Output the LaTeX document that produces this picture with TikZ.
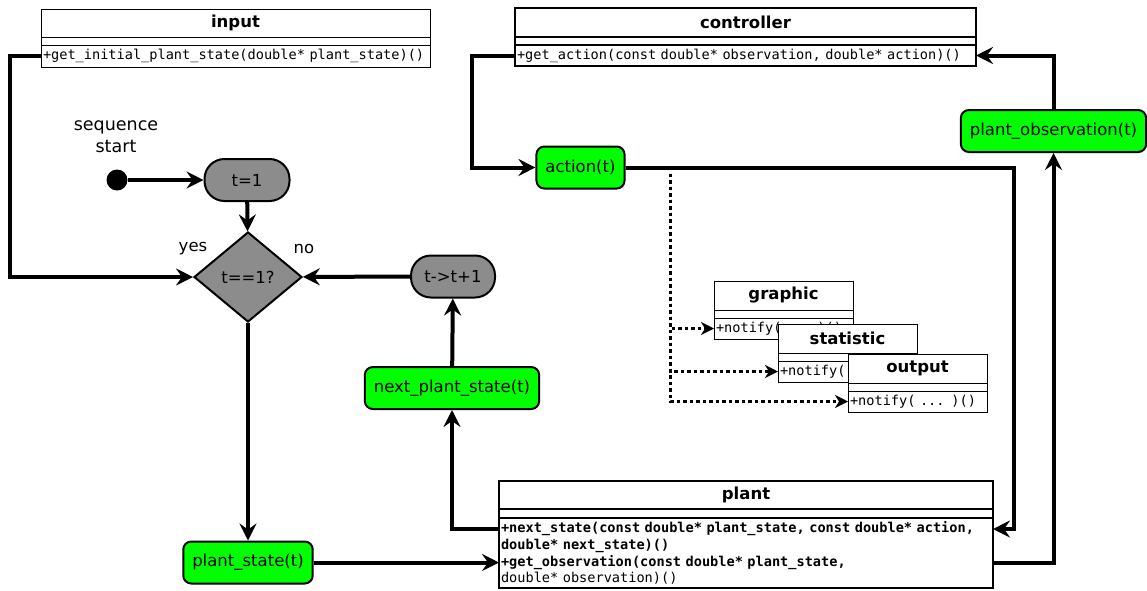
\documentclass[tikz,border=0pt]{standalone}
\usepackage{fontspec}
\setmainfont{DejaVu Sans}
\setmonofont{DejaVu Sans Mono}[WordSpace={1,0,0}]
\usetikzlibrary{arrows.meta,shapes.geometric}

\definecolor{stategreen}{HTML}{00FF00}
\definecolor{flowgray}{HTML}{8C8C8C}

\tikzset{
  lbl/.style={font=\fontsize{16.5}{21}\selectfont},
  ttl/.style={font=\fontsize{16.5}{19.5}\selectfont\bfseries},
  mth/.style={font=\fontsize{13.6}{16.8}\selectfont\ttfamily},
  part/.style={draw, fill=white, anchor=north west, inner sep=0pt, outer sep=0pt},
  titlepart/.style={part, ttl},
  methpart/.style={part, mth, align=left, inner xsep=2pt, inner ysep=0pt},
  greenbox/.style={draw, line width=2pt, fill=stategreen, rounded corners=8pt,
    lbl, minimum height=42pt, inner xsep=9pt},
  pill/.style={draw, line width=2pt, fill=flowgray, rounded corners=20pt,
    lbl, minimum height=42pt},
  conn/.style={line width=4pt, -{Stealth[length=17pt,width=17pt,inset=6pt]}},
  notifyline/.style={line width=2.5pt, dash pattern=on 3.5pt off 3pt,
    -{Stealth[length=13pt,width=13pt,inset=4pt]}},
}

\begin{document}
\begin{tikzpicture}[x=1pt,y=-1pt]
\useasboundingbox (0,0) rectangle (1147,590);

% ---- class: input
\begin{scope}[line width=1pt]
  \node[titlepart, minimum width=389pt, minimum height=28pt] (inT) at (41,9) {input};
  \node[part, minimum width=389pt, minimum height=8pt] (inE) at (41,37) {};
  \node[methpart, text width=385pt, minimum height=22pt] (inM) at (41,45)
    {+get\_initial\_plant\_state(double* plant\_state)()};
\end{scope}

% ---- class: controller
\begin{scope}[line width=2pt]
  \node[titlepart, minimum width=461pt, minimum height=29pt] (ctT) at (515,8) {controller};
  \node[part, minimum width=461pt, minimum height=8pt] (ctE) at (515,37) {};
  \node[methpart, text width=457pt, minimum height=21pt] (ctM) at (515,45)
    {+get\_action(const double* observation, double* action)()};
\end{scope}

% ---- observer classes
\begin{scope}[line width=1pt]
  \node[titlepart, minimum width=139pt, minimum height=29pt] (grT) at (714,281) {graphic};
  \node[part, minimum width=139pt, minimum height=8pt] (grE) at (714,310) {};
  \node[methpart, text width=135pt, minimum height=21pt] (grM) at (714,318) {+notify( ... )()};

  \node[titlepart, minimum width=139pt, minimum height=29pt] (stT) at (778,324) {statistic};
  \node[part, minimum width=139pt, minimum height=8pt] (stE) at (778,353) {};
  \node[methpart, text width=135pt, minimum height=21pt] (stM) at (778,361) {+notify( ... )()};

  \node[titlepart, minimum width=139pt, minimum height=29pt] (ouT) at (848,354) {output};
  \node[part, minimum width=139pt, minimum height=8pt] (ouE) at (848,383) {};
  \node[methpart, text width=135pt, minimum height=21pt] (ouM) at (848,391) {+notify( ... )()};
\end{scope}

% ---- class: plant
\begin{scope}[line width=2pt]
  \node[titlepart, minimum width=494pt, minimum height=28pt] (plT) at (499,481) {plant};
  \node[part, minimum width=494pt, minimum height=9pt] (plE) at (499,509) {};
  \node[methpart, text width=490pt, minimum height=70pt] (plM) at (499,518)
    {{\bfseries +next\_state(const double* plant\_state, const double* action,}\\
     {\bfseries double* next\_state)()}\\
     {\bfseries +get\_observation(const double* plant\_state,}\\
     double* observation)()};
\end{scope}

% ---- flow nodes
\node[lbl, align=center, font=\fontsize{17.5}{22}\selectfont] (seqlbl) at (116,137) {sequence\\start};
\node[circle, fill=black, minimum size=21pt, inner sep=0pt] (start) at (117,180) {};
\node[pill, minimum width=85pt] (t1) at (247,180) {t=1};
\node[diamond, draw, line width=2pt, fill=flowgray, lbl, inner sep=0pt,
      minimum width=108pt, minimum height=90pt] (dia) at (248,277) {t==1?};
\node[lbl] (yes) at (193,249) {yes};
\node[lbl] (no) at (304,249) {no};
\node[pill, minimum width=84pt] (inc) at (453,276.5) {t->t+1};
\node[greenbox] (nps) at (452,388) {next\_plant\_state(t)};
\node[greenbox] (ps) at (248,562.5) {plant\_state(t)};
\node[greenbox] (act) at (580.5,167.5) {action(t)};
\node[greenbox] (obs) at (1053.5,131) {plant\_observation(t)};

% ---- connectors
\draw[conn] (inM.west) -- ++(-31,0) |- (dia.west);
\draw[conn] (start) -- (t1);
\draw[conn] (t1) -- (dia);
\draw[conn] (inc) -- (dia);
\draw[conn] (dia) -- (ps);
\draw[conn] (ps.east) -- (ps.east -| plM.west);
\draw[conn] ([yshift=-11pt]plM.north west) -| (nps.south);
\draw[conn] (nps) -- (inc);
\draw[conn] (ctM.west) -- ++(-43,0) |- (act.west);
\draw[conn] (act.east) -- ++(388,0) |- ([yshift=-11pt]plM.north east);
\draw[conn] ([yshift=-45pt]plM.north east) -| (obs.south);
\draw[conn] (obs.north) |- (ctM.east);

% ---- notifications to the observers
\coordinate (tap) at ([xshift=45pt,yshift=-6pt]act.east);
\draw[notifyline] (tap) |- (grM.west);
\draw[notifyline] (tap) |- (stM.west);
\draw[notifyline] (tap) |- (ouM.west);
\end{tikzpicture}
\end{document}
